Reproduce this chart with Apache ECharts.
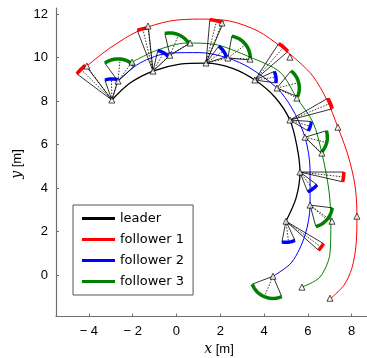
<!DOCTYPE html>
<html>
<head>
<meta charset="utf-8">
<script src="https://cdn.jsdelivr.net/npm/echarts@6/dist/echarts.min.js"></script>
<style>
  html, body { margin: 0; padding: 0; background: #fff; }
  #main { width: 367px; height: 358px; }
</style>
</head>
<body>
<div id="main"></div>
<script>
// 轨迹数据 (x, y) [m]
var leaderPath = [[-2.95, 8.05], [-2.12, 8.83], [-1.07, 9.38], [0.16, 9.70], [1.35, 9.75], [2.53, 9.52],
  [3.58, 8.97], [4.50, 8.18], [5.18, 7.13], [5.50, 5.93], [5.64, 4.74], [5.46, 3.54], [5.00, 2.48]];
var follower1Path = [[-4.54, 9.20], [-4.09, 9.61], [-3.04, 10.44], [-1.67, 11.26], [-0.30, 11.68], [1.07, 11.77],
  [2.44, 11.68], [3.72, 11.22], [4.73, 10.53], [5.55, 9.84], [6.23, 9.15], [6.87, 8.05], [7.37, 6.80],
  [7.83, 5.52], [8.15, 4.14], [8.24, 2.76], [8.20, 1.38], [8.01, 0.32], [7.65, -0.46], [7.01, -1.10]];
var follower2Path = [[-2.67, 8.92], [-1.67, 9.75], [-0.30, 10.21], [1.07, 10.23], [2.35, 9.98], [3.36, 9.52],
  [4.59, 8.60], [5.27, 7.68], [5.87, 6.34], [6.10, 4.83], [6.10, 3.22], [5.87, 1.84], [5.27, 0.60], [4.41, -0.05]];
var follower3Path = [[-2.03, 9.79], [-0.89, 10.34], [0.48, 10.67], [1.67, 10.62], [3.36, 10.02], [4.73, 9.33],
  [5.50, 8.14], [6.23, 7.03], [6.64, 5.61], [6.96, 3.91], [7.05, 2.44], [7.01, 1.01], [6.55, -0.09], [5.73, -0.55]];

// 7 个时刻的位置
var leaderMarks = [[-2.95, 8.05], [-1.07, 9.38], [1.35, 9.75], [3.58, 8.97], [5.18, 7.13], [5.64, 4.74], [5.00, 2.48]];
var follower1Marks = [[-4.09, 9.61], [-1.30, 11.45], [2.08, 11.59], [5.18, 10.02], [7.37, 6.80], [8.24, 2.71], [7.01, -1.06]];
var follower2Marks = [[-2.67, 8.92], [-0.30, 10.11], [2.35, 9.98], [4.59, 8.60], [5.87, 6.34], [6.10, 3.22], [4.41, -0.05]];
var follower3Marks = [[-2.03, 9.79], [0.62, 10.67], [3.36, 9.93], [5.50, 8.14], [6.64, 5.61], [7.10, 2.48], [5.73, -0.55]];

// 视野扇区 (起止角, 度)
var fov1 = [[127, 143], [96, 111], [67, 85], [41, 57], [15, 30], [-13, 0], [-42, -31]];
var fov2 = [[73, 109], [43, 77], [17, 53], [-8, 24], [-31, -4], [-69, -37], [-101, -65]];
var fov3 = [[43, 126], [31, 103], [-5, 80], [-23, 51], [-45, 17], [-75, -7], [-159, -67]];
var fovRadius = [2.0, 0.97, 1.02];

var names = ['leader', 'follower 1', 'follower 2', 'follower 3'];
var colors = ['#000000', '#ff0000', '#0000ff', '#008000'];
var xTicks = [-4, -2, 0, 2, 4, 6, 8];
var yTicks = [0, 2, 4, 6, 8, 10, 12];

var myChart = echarts.init(document.getElementById('main'));

function sectors(apexes, fov, r, targets) {
    var edges = [], arcs = [], dots = [];
    for (var k = 0; k < apexes.length; k++) {
        var a = apexes[k];
        var s = fov[k][0] * Math.PI / 180, e = fov[k][1] * Math.PI / 180;
        var arc = [];
        for (var i = 0; i <= 16; i++) {
            var t = s + (e - s) * i / 16;
            arc.push([a[0] + r * Math.cos(t), a[1] + r * Math.sin(t)]);
        }
        edges.push({coords: [arc[0], a, arc[16]]});
        arcs.push({coords: arc});
        var m = (s + e) / 2;
        dots.push({coords: [a, [a[0] + r * Math.cos(m), a[1] + r * Math.sin(m)]]});
        var f = targets[k];
        var ang = Math.atan2(f[1] - a[1], f[0] - a[0]);
        var d = Math.sqrt(Math.pow(f[0] - a[0], 2) + Math.pow(f[1] - a[1], 2));
        if (ang > s - 0.1 && ang < e + 0.1 && d < r * 1.3) {
            dots.push({coords: [a, f]});
        }
    }
    return {edges: edges, arcs: arcs, dots: dots};
}

var sec = [
    sectors(leaderMarks, fov1, fovRadius[0], follower1Marks),
    sectors(leaderMarks, fov2, fovRadius[1], follower2Marks),
    sectors(follower2Marks, fov3, fovRadius[2], follower3Marks)
];

var paths = [leaderPath, follower1Path, follower2Path, follower3Path];
var marks = [leaderMarks, follower1Marks, follower2Marks, follower3Marks];

var series = [];
paths.forEach(function (p, i) {
    series.push({
        name: names[i],
        type: 'line',
        data: p,
        smooth: 0.3,
        showSymbol: false,
        z: 2,
        lineStyle: {color: colors[i], width: i == 0 ? 1.3 : 1},
        itemStyle: {color: colors[i]}
    });
});
sec.forEach(function (sc, i) {
    series.push({
        type: 'lines', coordinateSystem: 'cartesian2d', polyline: true, z: 3,
        data: sc.edges, lineStyle: {color: '#000', width: 0.8, opacity: 1}
    });
    series.push({
        type: 'lines', coordinateSystem: 'cartesian2d', polyline: true, z: 3,
        data: sc.dots, lineStyle: {color: '#000', width: 0.8, type: [1.5, 1.5], opacity: 1}
    });
    series.push({
        type: 'lines', coordinateSystem: 'cartesian2d', polyline: true, z: 4,
        data: sc.arcs, lineStyle: {color: colors[i + 1], width: 3.5, opacity: 1, cap: 'butt'}
    });
});
marks.forEach(function (m, i) {
    series.push({
        type: 'scatter',
        data: m,
        symbol: 'triangle',
        symbolSize: 6,
        z: 5,
        itemStyle: {color: '#fff', borderColor: '#000', borderWidth: 0.9}
    });
});

var axisColor = '#6e6e6e';
var option = {
    animation: false,
    grid: {left: 56, right: 0, top: 8, bottom: 41.5},
    legend: {
        data: names,
        orient: 'vertical',
        left: 73, top: 205,
        padding: [7, 9, 7, 9],
        itemGap: 8,
        itemWidth: 33,
        itemHeight: 3,
        icon: 'rect',
        borderColor: '#555',
        borderWidth: 1,
        backgroundColor: '#fff',
        z: 10,
        textStyle: {fontFamily: 'DejaVu Sans', fontSize: 13, color: '#000'}
    },
    xAxis: {
        type: 'value', min: -5.5, max: 8.7,
        splitLine: {show: false},
        axisLine: {show: true, onZero: false, lineStyle: {color: axisColor, width: 1.2}},
        axisTick: {show: true, inside: true, length: 3, customValues: xTicks, lineStyle: {color: axisColor}},
        axisLabel: {
            customValues: xTicks, margin: 8, color: '#000', fontSize: 13, fontFamily: 'Liberation Sans',
            formatter: function (v) { return v < 0 ? '\u2212 ' + Math.abs(v) : '' + v; }
        }
    },
    yAxis: {
        type: 'value', min: -1.9, max: 12.28,
        splitLine: {show: false},
        axisLine: {show: true, onZero: false, lineStyle: {color: axisColor, width: 1.2}},
        axisTick: {show: true, inside: true, length: 3, customValues: yTicks, lineStyle: {color: axisColor}},
        axisLabel: {customValues: yTicks, margin: 8, color: '#000', fontSize: 13, fontFamily: 'Liberation Sans'}
    },
    graphic: [
        {
            type: 'text', x: 219, y: 349,
            style: {
                text: '{i|x} [m]', fill: '#000', font: '13px Liberation Sans',
                align: 'center', verticalAlign: 'middle',
                rich: {i: {fontFamily: 'DejaVu Serif', fontStyle: 'italic', fontSize: 14}}
            }
        },
        {
            type: 'text', x: 17, y: 164, rotation: Math.PI / 2,
            style: {
                text: '{i|y} [m]', fill: '#000', font: '13px Liberation Sans',
                align: 'center', verticalAlign: 'middle',
                rich: {i: {fontFamily: 'DejaVu Serif', fontStyle: 'italic', fontSize: 14}}
            }
        }
    ],
    series: series
};

myChart.setOption(option);
</script>
</body>
</html>
